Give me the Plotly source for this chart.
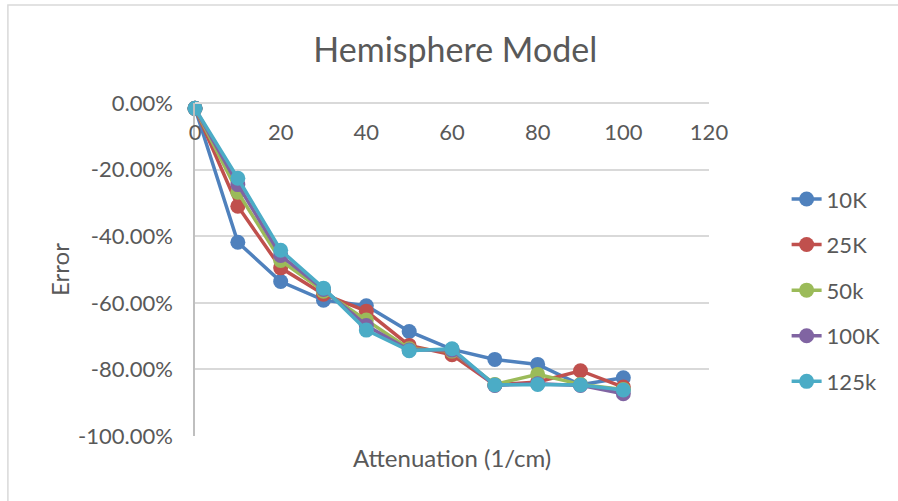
import plotly.graph_objects as go

attenuation = [0, 10, 20, 30, 40, 50, 60, 70, 80, 90, 100]
err_10k = [-1.6, -41.8, -53.6, -59.2, -60.9, -68.6, -74.0, -77.0, -78.5, -84.6, -82.5]
err_25k = [-1.6, -31.0, -49.5, -57.4, -62.5, -72.8, -75.6, -84.7, -83.8, -80.4, -85.3]
err_50k = [-1.6, -26.8, -47.3, -56.5, -65.2, -73.8, -74.5, -84.5, -81.5, -84.5, -86.0]
err_100k = [-1.6, -24.5, -45.8, -56.0, -66.8, -74.2, -74.2, -84.8, -84.3, -84.8, -87.3]
err_125k = [-1.6, -22.6, -44.2, -55.6, -68.2, -74.4, -73.8, -84.7, -84.5, -84.7, -86.2]

series_names = ["10K", "25K", "50k", "100K", "125k"]
series_vals = [err_10k, err_25k, err_50k, err_100k, err_125k]
colors = ["#4F81BD", "#C0504D", "#9BBB59", "#8064A2", "#4BACC6"]

y_tickvals = [0, -20, -40, -60, -80, -100]
y_ticktext = ["0.00%", "-20.00%", "-40.00%", "-60.00%", "-80.00%", "-100.00%"]
x_tickvals = [0, 20, 40, 60, 80, 100, 120]

FONT = "Lato"
TXT = "#595959"

fig = go.Figure()
for name, vals, col in zip(series_names, series_vals, colors):
    fig.add_trace(go.Scatter(
        x=attenuation, y=vals, name=name, mode="lines+markers",
        line=dict(color=col, width=3.5),
        marker=dict(color=col, size=15),
        cliponaxis=False, legendgroup=name,
    ))

fig.update_layout(
    width=898, height=501,
    margin=dict(l=195, r=187, t=103, b=65),
    paper_bgcolor="white", plot_bgcolor="white",
    font=dict(family=FONT, color=TXT, size=22),
    title=dict(text="Hemisphere Model", x=0.507, xanchor="center",
               y=0.9, yanchor="middle",
               font=dict(family=FONT, size=34, color=TXT)),
    showlegend=True,
    legend=dict(x=1.151, xanchor="left", y=0.438, yanchor="middle",
                font=dict(family=FONT, size=22, color=TXT),
                tracegroupgap=14, bgcolor="rgba(0,0,0,0)"),
    xaxis=dict(range=[0, 120], tickvals=x_tickvals, side="bottom",
               anchor="free", position=1, ticklabelstandoff=10,
               showgrid=False, zeroline=False,
               showline=True, linecolor="#D9D9D9", linewidth=1.5,
               tickfont=dict(family=FONT, size=22, color=TXT)),
    yaxis=dict(range=[-100, 0], tickvals=y_tickvals, ticktext=y_ticktext,
               domain=[0, 1],
               showgrid=True, gridcolor="#D9D9D9", gridwidth=1.5,
               zeroline=False, showline=True, linecolor="#BFBFBF", linewidth=1.5,
               ticklabelstandoff=16,
               tickfont=dict(family=FONT, size=22, color=TXT),
               title=dict(text="Error", standoff=2,
                          font=dict(family=FONT, size=24, color=TXT))),
    annotations=[dict(text="Attenuation (1/cm)", xref="paper", yref="paper",
                      x=0.5, y=-0.066, xanchor="center", yanchor="middle",
                      showarrow=False, font=dict(family=FONT, size=24, color=TXT))],
    shapes=[dict(type="rect", xref="paper", yref="paper",
                 x0=-0.364, y0=-1, x1=2, y1=1.294,
                 line=dict(color="#D9D9D9", width=1.5), layer="below")],
)

fig.write_html("out.html")
